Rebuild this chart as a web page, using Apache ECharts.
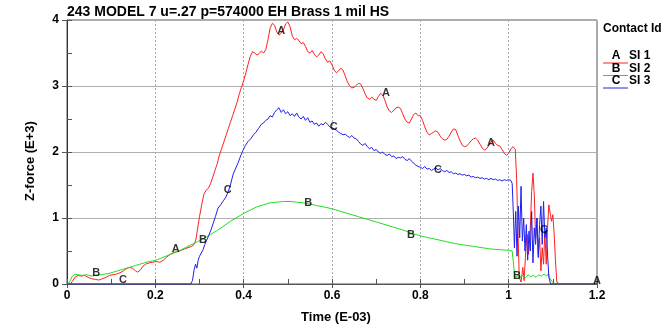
<!DOCTYPE html>
<html>
<head>
<meta charset="utf-8">
<script src="https://cdn.jsdelivr.net/npm/echarts@6/dist/echarts.min.js"></script>
<style>
  html, body { margin: 0; padding: 0; background: #fff; }
  #chart { width: 672px; height: 330px; }
</style>
</head>
<body>
<div id="chart"></div>
<script>
// Contact force history for three slave interfaces (time in E-03, force in E+3)
const titleText = '243 MODEL 7 u=.27 p=574000 EH Brass 1 mil HS';
const legendTitle = 'Contact Id';
const seriesNames = ['SI 1', 'SI 2', 'SI 3'];
const seriesLetters = ['A', 'B', 'C'];
const seriesColors = ['#ff2020', '#22dd22', '#2020ee'];
const xTickLabels = ['0', '0.2', '0.4', '0.6', '0.8', '1', '1.2'];
const yTickLabels = ['0', '1', '2', '3', '4'];

// SI 1 (A): [time, force]
const forceA = [
  [0.008,0],[0.012,0.04],[0.018,0.1],[0.025,0.13],[0.032,0.12],[0.04,0.13],[0.048,0.1],[0.056,0.08],[0.064,0.07],[0.072,0.06],
  [0.08,0.08],[0.088,0.1],[0.096,0.13],[0.104,0.14],[0.112,0.15],[0.12,0.17],[0.128,0.2],[0.136,0.24],[0.142,0.25],[0.148,0.24],
  [0.155,0.2],[0.16,0.18],[0.166,0.21],[0.172,0.27],[0.178,0.3],[0.186,0.32],[0.194,0.33],[0.202,0.34],[0.21,0.33],[0.218,0.36],
  [0.226,0.41],[0.234,0.45],[0.242,0.48],[0.25,0.49],[0.258,0.51],[0.266,0.53],[0.274,0.55],[0.282,0.57],[0.288,0.6],[0.292,0.68],
  [0.296,0.85],[0.3,1.02],[0.305,1.2],[0.31,1.36],[0.315,1.42],[0.32,1.45],[0.325,1.52],[0.33,1.62],[0.335,1.72],[0.34,1.82],
  [0.345,1.95],[0.35,2.05],[0.355,2.15],[0.36,2.25],[0.365,2.35],[0.37,2.45],[0.375,2.55],[0.38,2.65],[0.385,2.75],[0.39,2.88],
  [0.395,2.98],[0.4,3.08],[0.405,3.2],[0.41,3.33],[0.415,3.45],[0.42,3.52],[0.425,3.5],[0.43,3.47],[0.435,3.49],[0.44,3.53],
  [0.445,3.5],[0.45,3.55],[0.455,3.7],[0.46,3.88],[0.465,3.95],[0.47,3.92],[0.475,3.82],[0.48,3.77],[0.485,3.8],[0.49,3.85],
  [0.495,3.94],[0.5,3.97],[0.505,3.9],[0.51,3.76],[0.515,3.7],[0.52,3.72],[0.525,3.69],[0.53,3.64],[0.535,3.66],[0.54,3.6],
  [0.545,3.52],[0.55,3.5],[0.555,3.54],[0.56,3.48],[0.565,3.44],[0.57,3.47],[0.575,3.52],[0.58,3.49],[0.585,3.41],[0.59,3.36],
  [0.595,3.38],[0.6,3.32],[0.605,3.24],[0.61,3.2],[0.615,3.23],[0.62,3.27],[0.625,3.24],[0.63,3.15],[0.635,3.06],[0.64,3.0],
  [0.645,2.97],[0.65,2.98],[0.655,3.01],[0.66,3.04],[0.665,3.03],[0.67,2.96],[0.675,2.88],[0.68,2.82],[0.685,2.8],[0.69,2.83],
  [0.695,2.8],[0.7,2.78],[0.705,2.84],[0.71,2.89],[0.715,2.86],[0.72,2.78],[0.725,2.68],[0.73,2.62],[0.735,2.6],[0.74,2.63],
  [0.745,2.67],[0.75,2.68],[0.755,2.66],[0.76,2.58],[0.765,2.5],[0.77,2.45],[0.775,2.44],[0.78,2.5],[0.785,2.57],[0.79,2.59],
  [0.795,2.55],[0.8,2.55],[0.805,2.48],[0.81,2.38],[0.815,2.3],[0.82,2.26],[0.825,2.28],[0.83,2.3],[0.835,2.32],[0.84,2.3],
  [0.845,2.24],[0.85,2.2],[0.855,2.18],[0.86,2.19],[0.865,2.24],[0.87,2.3],[0.875,2.35],[0.88,2.34],[0.885,2.25],[0.89,2.17],
  [0.895,2.1],[0.9,2.08],[0.905,2.09],[0.91,2.13],[0.915,2.17],[0.92,2.2],[0.925,2.21],[0.93,2.18],[0.935,2.12],[0.94,2.06],
  [0.945,2.03],[0.95,2.05],[0.955,2.1],[0.96,2.15],[0.965,2.18],[0.97,2.13],[0.975,2.1],[0.98,2.09],[0.985,2.04],[0.99,1.98],
  [0.995,1.95],[1.0,1.98],[1.005,2.05],[1.01,2.08],[1.015,2.04],[1.018,1.6],[1.021,0.8],[1.024,0.1],[1.028,0.03],[1.032,0.25],
  [1.035,0.05],[1.039,0.55],[1.042,0.75],[1.045,0.45],[1.049,0.85],[1.052,1.4],[1.055,1.68],[1.058,1.35],[1.061,0.7],[1.064,1.0],
  [1.067,0.45],[1.07,0.7],[1.073,0.2],[1.076,0.55],[1.079,0.3],[1.082,0.8],[1.085,0.3],[1.088,0.85],[1.091,1.2],[1.094,1.22],
  [1.097,0.95],[1.1,1.05],[1.103,0.75],[1.106,0.35],[1.109,0.03],[1.115,0],[1.2,0]
];

// SI 2 (B): [time, force]
const forceB = [
  [0.003,0],[0.008,0.06],[0.012,0.12],[0.018,0.15],[0.025,0.14],[0.035,0.13],[0.045,0.14],[0.055,0.12],[0.065,0.13],[0.075,0.14],
  [0.085,0.15],[0.095,0.16],[0.105,0.18],[0.115,0.2],[0.125,0.22],[0.135,0.24],[0.145,0.26],[0.155,0.28],[0.165,0.3],[0.175,0.32],
  [0.185,0.34],[0.195,0.35],[0.205,0.37],[0.22,0.41],[0.235,0.45],[0.25,0.49],[0.265,0.54],[0.28,0.59],[0.295,0.64],[0.31,0.69],
  [0.325,0.75],[0.34,0.81],[0.355,0.88],[0.37,0.95],[0.385,1.01],[0.4,1.07],[0.415,1.12],[0.43,1.17],[0.445,1.2],[0.46,1.23],
  [0.475,1.24],[0.49,1.25],[0.505,1.25],[0.52,1.24],[0.535,1.23],[0.55,1.21],[0.565,1.19],[0.58,1.17],[0.6,1.14],[0.62,1.1],
  [0.64,1.06],[0.66,1.02],[0.68,0.98],[0.7,0.94],[0.72,0.9],[0.74,0.86],[0.76,0.82],[0.78,0.77],[0.8,0.73],[0.82,0.7],
  [0.84,0.67],[0.86,0.64],[0.88,0.61],[0.9,0.59],[0.92,0.57],[0.94,0.55],[0.96,0.53],[0.98,0.52],[1.0,0.51],[1.008,0.5],
  [1.011,0.3],[1.014,0.1],[1.02,0.12],[1.026,0.09],[1.032,0.13],[1.038,0.1],[1.044,0.14],[1.05,0.11],[1.056,0.13],[1.062,0.1],
  [1.068,0.14],[1.074,0.12],[1.08,0.15],[1.086,0.12],[1.09,0.16],[1.094,0.08],[1.1,0.02],[1.11,0],[1.2,0]
];

// SI 3 (C): [time, force]
const forceC = [
  [0,0],[0.28,0],[0.284,0.05],[0.288,0.22],[0.291,0.3],[0.294,0.24],[0.297,0.36],[0.3,0.42],[0.304,0.4],[0.308,0.52],
  [0.312,0.6],[0.316,0.66],[0.32,0.72],[0.326,0.82],[0.331,0.92],[0.336,1.02],[0.342,1.15],[0.348,1.2],[0.354,1.26],[0.36,1.32],
  [0.365,1.4],[0.37,1.5],[0.376,1.66],[0.381,1.74],[0.387,1.83],[0.392,1.92],[0.398,2.02],[0.404,2.1],[0.41,2.16],[0.416,2.2],
  [0.422,2.26],[0.428,2.3],[0.434,2.36],[0.44,2.42],[0.445,2.44],[0.45,2.48],[0.455,2.5],[0.46,2.55],[0.465,2.53],[0.47,2.6],
  [0.475,2.64],[0.48,2.67],[0.485,2.6],[0.49,2.64],[0.495,2.58],[0.5,2.61],[0.505,2.55],[0.51,2.58],[0.515,2.54],[0.52,2.59],
  [0.525,2.53],[0.53,2.5],[0.535,2.54],[0.54,2.48],[0.545,2.52],[0.55,2.45],[0.555,2.47],[0.56,2.42],[0.565,2.44],[0.57,2.39],
  [0.575,2.43],[0.58,2.41],[0.585,2.45],[0.59,2.42],[0.595,2.38],[0.6,2.37],[0.605,2.35],[0.61,2.33],[0.615,2.3],[0.62,2.28],
  [0.625,2.26],[0.63,2.27],[0.635,2.24],[0.64,2.22],[0.645,2.25],[0.65,2.21],[0.655,2.2],[0.66,2.16],[0.665,2.12],[0.67,2.1],
  [0.675,2.13],[0.68,2.08],[0.685,2.05],[0.69,2.07],[0.695,2.02],[0.7,2.04],[0.705,2.0],[0.71,1.98],[0.715,2.0],[0.72,1.96],
  [0.725,1.95],[0.73,1.97],[0.735,1.93],[0.74,1.94],[0.745,1.9],[0.75,1.92],[0.755,1.91],[0.76,1.93],[0.765,1.89],[0.77,1.87],
  [0.775,1.9],[0.78,1.86],[0.785,1.83],[0.79,1.8],[0.795,1.78],[0.8,1.77],[0.805,1.75],[0.81,1.78],[0.815,1.74],[0.82,1.75],
  [0.825,1.72],[0.83,1.74],[0.835,1.76],[0.84,1.73],[0.845,1.75],[0.85,1.72],[0.855,1.7],[0.86,1.72],[0.865,1.69],[0.87,1.7],
  [0.875,1.67],[0.88,1.68],[0.885,1.66],[0.89,1.67],[0.895,1.65],[0.9,1.66],[0.905,1.64],[0.91,1.65],[0.915,1.62],[0.92,1.63],
  [0.925,1.61],[0.93,1.62],[0.935,1.6],[0.94,1.61],[0.945,1.59],[0.95,1.6],[0.955,1.58],[0.96,1.6],[0.965,1.58],[0.97,1.59],
  [0.975,1.57],[0.98,1.58],[0.985,1.56],[0.99,1.58],[0.995,1.57],[1.0,1.58],[1.005,1.57],[1.008,1.52],[1.011,1.0],[1.013,0.55],
  [1.016,1.1],[1.019,0.42],[1.022,1.18],[1.025,0.7],[1.028,1.48],[1.031,0.65],[1.034,1.0],[1.037,0.5],[1.04,0.9],[1.043,0.36],
  [1.046,0.8],[1.049,0.5],[1.052,1.1],[1.055,0.32],[1.058,0.85],[1.061,0.6],[1.064,1.0],[1.067,0.4],[1.07,0.9],[1.073,1.18],
  [1.076,0.6],[1.079,1.25],[1.082,0.7],[1.085,0.85],[1.088,0.45],[1.091,0.1],[1.095,0],[1.2,0]
];

// Letter tags placed along each curve
const tagsA = [[0.246,0.53],[0.485,3.83],[0.722,2.9],[0.96,2.13],[1.2,0.05]];
const tagsB = [[0.066,0.17],[0.308,0.67],[0.546,1.23],[0.779,0.74],[1.019,0.12]];
const tagsC = [[0.127,0.06],[0.364,1.42],[0.604,2.38],[0.84,1.73],[1.08,0.82]];

const FONT = '"Liberation Sans", Arial, sans-serif';
const curves = [forceA, forceB, forceC];
const tags = [tagsA, tagsB, tagsC];

const chart = echarts.init(document.getElementById('chart'), null, { renderer: 'canvas' });

const series = [];
curves.forEach((data, i) => {
  series.push({
    name: seriesNames[i],
    type: 'line',
    data: data,
    showSymbol: false,
    symbol: 'none',
    lineStyle: { color: seriesColors[i], width: 1 },
    itemStyle: { color: seriesColors[i] },
    z: 3 + i,
    animation: false
  });
});
tags.forEach((data, i) => {
  series.push({
    name: seriesLetters[i] + ' tags',
    type: 'scatter',
    data: data,
    symbol: 'circle',
    symbolSize: 0,
    clip: false,
    z: 10,
    label: {
      show: true,
      position: 'inside',
      formatter: seriesLetters[i],
      color: '#000',
      fontFamily: FONT,
      fontSize: 11,
      fontWeight: 'bold'
    },
    animation: false
  });
});

// Legend block drawn beside the plot
const legendGraphics = [{
  type: 'text', left: 603, top: 23,
  style: { text: legendTitle, font: 'bold 12px ' + FONT, fill: '#000' }
}];
seriesNames.forEach((name, i) => {
  const y = 63 + i * 12.5;
  legendGraphics.push({
    type: 'line',
    shape: { x1: 603, y1: y, x2: 628, y2: y },
    style: { stroke: seriesColors[i], lineWidth: 1 }
  });
  legendGraphics.push({
    type: 'text', x: 616, y: y - 1,
    style: { text: seriesLetters[i], font: 'bold 12px ' + FONT, fill: '#000', textAlign: 'center', textVerticalAlign: 'bottom' }
  });
  legendGraphics.push({
    type: 'text', x: 629, y: y - 1,
    style: { text: name, font: 'bold 12px ' + FONT, fill: '#000', textAlign: 'left', textVerticalAlign: 'bottom' }
  });
});

const labelStyle = { color: '#000', fontFamily: FONT, fontSize: 12, fontWeight: 'bold' };
const nameStyle = { color: '#000', fontFamily: FONT, fontSize: 13, fontWeight: 'bold' };

chart.setOption({
  backgroundColor: '#fff',
  animation: false,
  title: {
    text: titleText,
    left: 67, top: 5, padding: 0,
    textStyle: { color: '#000', fontFamily: FONT, fontSize: 14, fontWeight: 'bold' }
  },
  grid: {
    left: 67, right: 75, top: 20, bottom: 46,
    show: true, borderColor: '#555', borderWidth: 1, backgroundColor: 'transparent'
  },
  xAxis: [{
    type: 'value', min: 0, max: 1.2, interval: 0.2,
    name: 'Time (E-03)', nameLocation: 'middle', nameGap: 27,
    nameTextStyle: Object.assign({ padding: [0, 0, 0, 8] }, nameStyle),
    axisLine: { show: true, lineStyle: { color: '#555', width: 1 } },
    axisTick: { show: true, length: 4, lineStyle: { color: '#555' } },
    axisLabel: Object.assign({ margin: 6, formatter: v => xTickLabels[Math.round(v / 0.2)] }, labelStyle),
    splitLine: { show: true, lineStyle: { color: '#a4a8b8', width: 1, type: [2, 2] } }
  }, {
    type: 'value', min: 0, max: 1.2, interval: 0.1, position: 'bottom',
    axisLine: { show: false },
    axisTick: { show: true, inside: true, length: 5, lineStyle: { color: '#555' } },
    axisLabel: { show: false },
    splitLine: { show: false }
  }],
  yAxis: [{
    type: 'value', min: 0, max: 4, interval: 1,
    name: 'Z-force (E+3)', nameLocation: 'middle', nameGap: 30,
    nameTextStyle: Object.assign({ padding: [0, 18, 0, 0] }, nameStyle),
    axisLine: { show: true, lineStyle: { color: '#333', width: 1 } },
    axisTick: { show: true, length: 5, lineStyle: { color: '#555' } },
    axisLabel: Object.assign({ margin: 8, formatter: v => yTickLabels[Math.round(v)] }, labelStyle),
    splitLine: { show: true, lineStyle: { color: '#b0b0b0', width: 1 } }
  }, {
    type: 'value', min: 0, max: 4, interval: 0.5, position: 'left',
    axisLine: { show: false },
    axisTick: { show: true, inside: true, length: 5, lineStyle: { color: '#555' } },
    axisLabel: { show: false },
    splitLine: { show: false }
  }],
  graphic: legendGraphics,
  series: series
});
</script>
</body>
</html>
